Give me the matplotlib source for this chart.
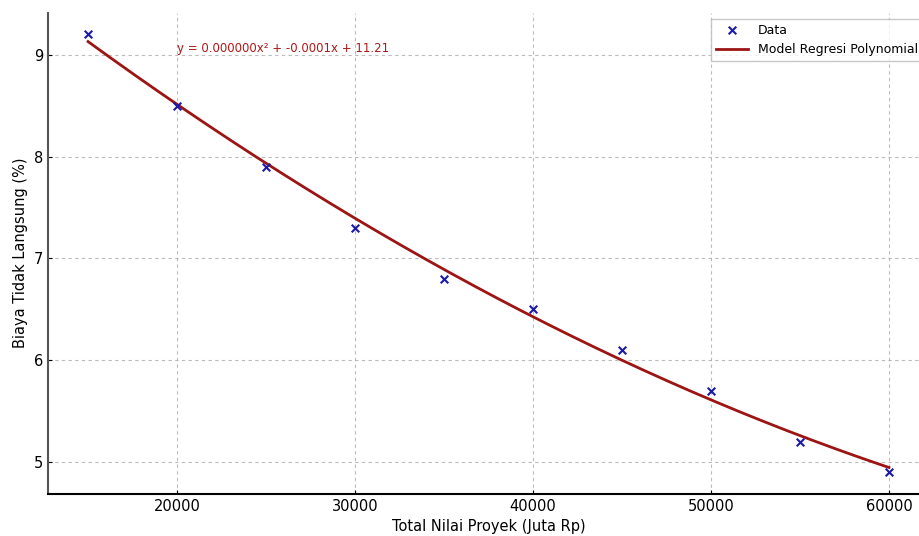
import numpy as np
import matplotlib.pyplot as plt

# data
nilai_proyek = [15000, 20000, 25000, 30000, 35000, 40000, 45000, 50000, 55000, 60000]
biaya_tidak_langsung = [9.2, 8.5, 7.9, 7.3, 6.8, 6.5, 6.1, 5.7, 5.2, 4.9]

# polynomial regression (degree 2) of the data
coef = np.polyfit(nilai_proyek, biaya_tidak_langsung, 2)
x_fit = np.linspace(min(nilai_proyek), max(nilai_proyek), 200)
y_fit = np.polyval(coef, x_fit)
eq_text = f'y = {coef[0]:.6f}x\u00b2 + {coef[1]:.4f}x + {coef[2]:.2f}'

fig = plt.figure(figsize=(9.19, 5.36), dpi=100)
ax = fig.add_axes([48 / 919, 1 - 494 / 536, (929 - 48) / 919, (494 - 12.5) / 536])

ax.scatter(nilai_proyek, biaya_tidak_langsung, marker='x', color='#1a1aa8', s=30, linewidths=1.5,
           label='Data', zorder=3)
ax.plot(x_fit, y_fit, color='#9c1414', linewidth=2, label='Model Regresi Polynomial', zorder=2)
ax.text(20000, 9.03, eq_text, color='#b01818', fontsize=8.5, va='baseline', ha='left')

ax.set_xlim(12750, 62250)
ax.set_ylim(4.685, 9.415)
ax.set_xticks([20000, 30000, 40000, 50000, 60000])
ax.set_yticks([5, 6, 7, 8, 9])
ax.grid(True, linestyle=(0, (3, 3)), color='#aaaaaa', linewidth=0.8, alpha=0.8)
ax.spines['top'].set_visible(False)
ax.spines['right'].set_visible(False)
ax.spines['left'].set_color('#555555')
ax.spines['left'].set_linewidth(1.5)
ax.spines['bottom'].set_linewidth(1.5)
ax.tick_params(direction='in', length=3, labelsize=10.5)

ax.set_xlabel('Total Nilai Proyek (Juta Rp)', fontsize=10.5)
ax.set_ylabel('Biaya Tidak Langsung (%)', fontsize=10.5)
ax.legend(loc='upper right', fontsize=9, frameon=True, fancybox=False, edgecolor='#bbbbbb',
          bbox_to_anchor=(1.0, 1.0), handlelength=2.5)

plt.savefig('out.png', dpi=100)
